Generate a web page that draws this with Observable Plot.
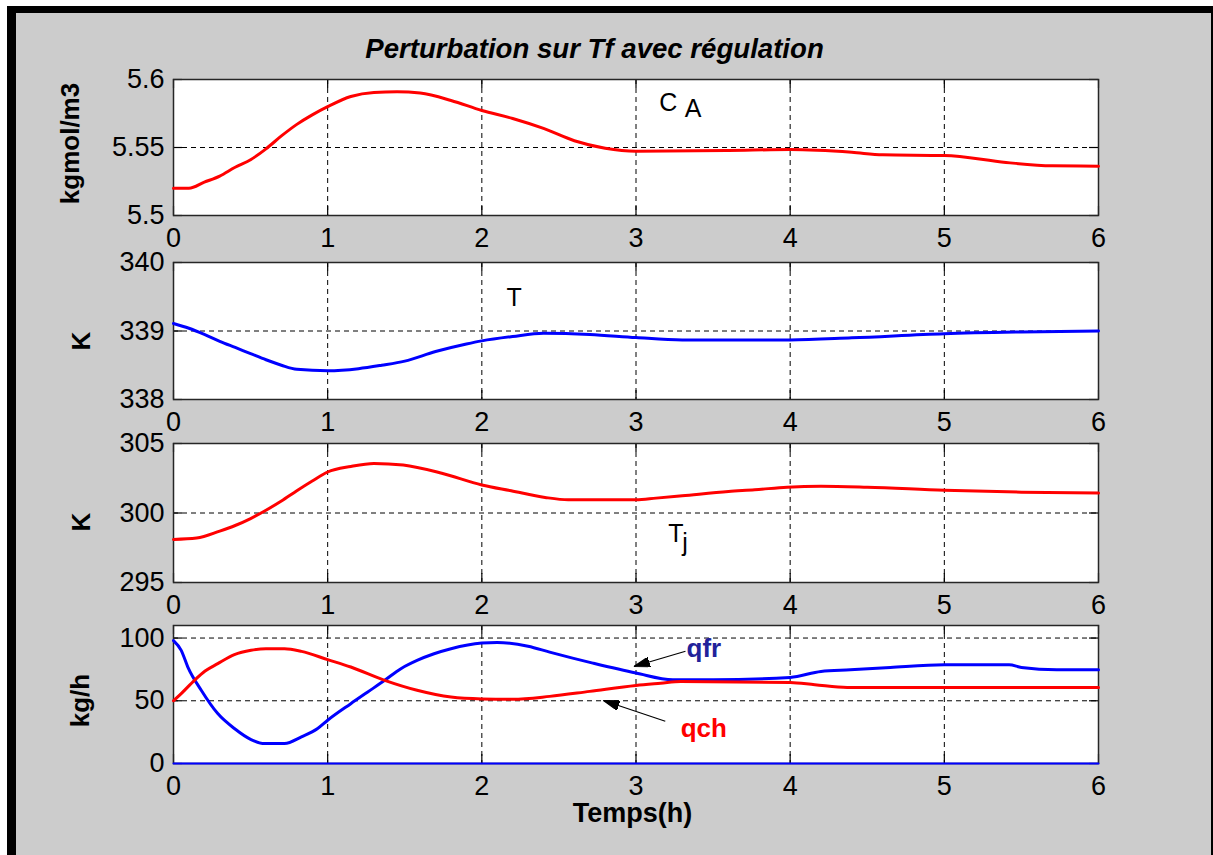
<!DOCTYPE html>
<html><head><meta charset="utf-8">
<script src="https://cdn.jsdelivr.net/npm/d3@7"></script>
<script src="https://cdn.jsdelivr.net/npm/@observablehq/plot@0.6"></script>
<style>
html,body{margin:0;padding:0;background:#fff;}
#page{position:relative;width:1213px;height:855px;overflow:hidden;background:#fff;}
#fig{position:absolute;left:7px;top:6px;width:1195px;height:849px;background:#cccccc;border-left:9px solid #000;border-top:7px solid #000;border-right:2px solid #000;}
</style></head><body><div id="page"><div id="fig"></div></div>
<script>
// ---- data ----
const xTicks = [0, 1, 2, 3, 4, 5, 6];
const titleText = "Perturbation sur Tf avec régulation";
const xLabelText = "Temps(h)";
const yLabels = ["kgmol/m3", "K", "K", "kg/h"];

const caTicks = [5.5, 5.55, 5.6];
const tTicks = [338, 339, 340];
const tjTicks = [295, 300, 305];
const qTicks = [0, 50, 100];

const caT = [0, 0.1, 0.2, 0.3, 0.4, 0.5, 0.6, 0.7, 0.8, 0.9, 1.0, 1.15, 1.3, 1.45, 1.6, 1.8, 2.0, 2.2, 2.4, 2.6, 2.8, 3.0, 3.6, 4.0, 4.4, 4.6, 5.0, 5.4, 5.7, 6.0];
const caV = [5.520, 5.520, 5.5245, 5.529, 5.5355, 5.541, 5.549, 5.5585, 5.567, 5.574, 5.580, 5.5875, 5.5905, 5.591, 5.590, 5.5846, 5.5772, 5.5713, 5.564, 5.555, 5.5495, 5.5473, 5.5478, 5.5485, 5.5465, 5.5446, 5.5441, 5.539, 5.5365, 5.5363];

const tT = [0, 0.1, 0.2, 0.3, 0.4, 0.5, 0.6, 0.7, 0.8, 1.0, 1.2, 1.35, 1.5, 1.7, 1.9, 2.0, 2.2, 2.4, 2.7, 3.0, 3.3, 4.0, 4.4, 5.0, 5.5, 6.0];
const tV = [339.11, 339.04, 338.95, 338.85, 338.76, 338.67, 338.58, 338.50, 338.44, 338.42, 338.45, 338.5, 338.56, 338.7, 338.81, 338.856, 338.92, 338.967, 338.95, 338.904, 338.87, 338.87, 338.9, 338.96, 338.985, 339.0];

const tjT = [0, 0.15, 0.3, 0.4, 0.5, 0.6, 0.7, 0.8, 0.9, 1.0, 1.15, 1.3, 1.49, 1.74, 2.0, 2.19, 2.41, 2.56, 3.0, 3.13, 3.3, 3.6, 3.77, 3.98, 4.2, 4.5, 5.0, 5.5, 6.0];
const tjV = [298.1, 298.2, 298.7, 299.1, 299.6, 300.2, 300.86, 301.6, 302.3, 302.95, 303.35, 303.57, 303.45, 302.86, 302.02, 301.6, 301.12, 300.95, 300.95, 301.07, 301.24, 301.55, 301.67, 301.86, 301.93, 301.86, 301.64, 301.5, 301.43];

const qchT = [0, 0.05, 0.136, 0.205, 0.287, 0.395, 0.503, 0.6, 0.72, 0.83, 1.0, 1.15, 1.37, 1.58, 1.8, 2.0, 2.2, 2.44, 2.7, 3.0, 3.16, 3.29, 4.0, 4.16, 4.37, 5.0, 6.0];
const qchV = [50, 55.7, 66.3, 73.7, 79.6, 86.7, 90.2, 91.5, 91.5, 89.4, 82.8, 76.9, 66.3, 58.4, 53, 51.5, 51.2, 53.5, 57.5, 62.2, 64, 65.4, 64.6, 62.8, 60.6, 60.6, 60.6];

const qfrT = [0, 0.05, 0.093, 0.18, 0.287, 0.395, 0.503, 0.59, 0.72, 0.83, 0.935, 1.0, 1.15, 1.26, 1.37, 1.475, 1.58, 1.69, 1.8, 2.0, 2.1, 2.3, 2.44, 2.72, 3.0, 3.24, 3.5, 4.0, 4.2, 4.39, 4.65, 5.0, 5.42, 5.5, 5.73, 6.0];
const qfrV = [98, 90.2, 76.9, 58.4, 39.8, 27.9, 19.1, 15.9, 15.9, 21.2, 27.9, 34.5, 47.7, 57, 66.3, 75.6, 82.2, 87.5, 91.5, 96, 96.5, 93.5, 88.8, 80, 72.1, 66.8, 66.8, 68.6, 73.4, 74.7, 76.6, 78.7, 78.7, 76.6, 74.7, 74.7];

const zeroT = [0, 6];
const zeroV = [0, 0];

// annotation anchors (data space)
const caLabel = [{t: 3.21, v: 5.5829, s: "C"}, {t: 3.37, v: 5.5782, s: "A"}];
const tLabel = [{t: 2.209, v: 339.48, s: "T"}];
const tjLabel = [{t: 3.259, v: 298.47, s: "T"}, {t: 3.318, v: 297.86, s: "j"}];
const qfrLabel = [{t: 3.328, v: 91.6, s: "qfr"}];
const qchLabel = [{t: 3.29, v: 27.9, s: "qch"}];
const arrows = [
  {t1: 3.321, v1: 89.5, t2: 2.986, v2: 77.3},
  {t1: 3.19, v1: 33.7, t2: 2.789, v2: 50.2}
];

// ---- drawing ----
const rows = (T, V) => T.map((t, i) => ({t, v: V[i]}));
const W = 1213, ML = 173, MR = 115, FW = W - ML - MR;
const FONT = "'Liberation Sans', Arial, Helvetica, sans-serif";
const grid = {stroke: "#000", strokeOpacity: 1, strokeWidth: 1, strokeDasharray: "5,4"};
const tk = {stroke: "#000", strokeWidth: 1.2};

function filledArrow(color) {
  return d3.create("svg:marker")
    .attr("viewBox", "0 -5 16 10").attr("refX", 16).attr("refY", 0)
    .attr("markerWidth", 16).attr("markerHeight", 10)
    .attr("markerUnits", "userSpaceOnUse").attr("orient", "auto")
    .call(m => m.append("path").attr("d", "M0,-5L16,0L0,5Z").attr("fill", color))
    .node();
}

function panel({top, h, dom, ticks, label, ldx, ldy, marks, mt = 20, mb = 45, extra = []}) {
  const chart = Plot.plot({
    width: W, height: mt + h + mb,
    marginLeft: ML, marginRight: MR, marginTop: mt, marginBottom: mb,
    x: {domain: [0, 6]}, y: {domain: dom},
    style: {background: "transparent", fontFamily: FONT, color: "#000", overflow: "visible"},
    marks: [
      Plot.frame({fill: "white"}),
      Plot.gridX(xTicks.slice(1, -1), grid),
      Plot.gridY(ticks.filter(d => d > dom[0] && d < dom[1]), grid),
      Plot.tickX(xTicks, {x: d => d, insetTop: h - 9, ...tk}),
      Plot.tickX(xTicks, {x: d => d, insetBottom: h - 9, ...tk}),
      Plot.tickY(ticks, {y: d => d, insetRight: FW - 9, ...tk}),
      Plot.tickY(ticks, {y: d => d, insetLeft: FW - 9, ...tk}),
      Plot.frame({stroke: "#262626", strokeWidth: 1.5}),
      ...marks,
      Plot.axisX(xTicks, {tickSize: 0, tickPadding: 12, fontSize: 27, label: null, tickFormat: d => String(d)}),
      Plot.axisY(ticks, {tickSize: 0, tickPadding: 9, fontSize: 27, label: null, tickFormat: d => String(d)}),
      Plot.text([label], {text: d => d, frameAnchor: "left", textAnchor: "middle", rotate: -90, dx: ldx, dy: ldy, fontSize: 26, fontWeight: "bold"}),
      ...extra
    ]
  });
  chart.style.position = "absolute";
  chart.style.left = "0px";
  chart.style.top = (top - mt) + "px";
  document.getElementById("page").appendChild(chart);
}

const lineOpts = (stroke) => ({x: "t", y: "v", stroke, strokeWidth: 3, curve: "monotone-x", strokeLinejoin: "round"});

panel({
  top: 79, h: 136, dom: [5.5, 5.6], ticks: caTicks, label: yLabels[0], ldx: -103, ldy: -4, mt: 75,
  marks: [
    Plot.line(rows(caT, caV), lineOpts("red")),
    Plot.text(caLabel, {x: "t", y: "v", text: "s", fontSize: 25})
  ],
  extra: [
    Plot.text([titleText], {text: d => d, frameAnchor: "top", textAnchor: "middle", dx: -41.5, dy: -41.6, fontSize: 27.6, fontWeight: "bold", fontStyle: "italic"})
  ]
});

panel({
  top: 262, h: 137, dom: [338, 340], ticks: tTicks, label: yLabels[1], ldx: -92, ldy: 10,
  marks: [
    Plot.line(rows(tT, tV), lineOpts("blue")),
    Plot.text(tLabel, {x: "t", y: "v", text: "s", fontSize: 25})
  ]
});

panel({
  top: 443, h: 139, dom: [295, 305], ticks: tjTicks, label: yLabels[2], ldx: -92, ldy: 9,
  marks: [
    Plot.line(rows(tjT, tjV), lineOpts("red")),
    Plot.text(tjLabel, {x: "t", y: "v", text: "s", fontSize: 25})
  ]
});

panel({
  top: 625, h: 138, dom: [0, 110], ticks: qTicks, label: yLabels[3], ldx: -93, ldy: 6, mb: 85,
  marks: [
    Plot.line(rows(zeroT, zeroV), {x: "t", y: "v", stroke: "blue", strokeWidth: 2}),
    Plot.line(rows(qfrT, qfrV), lineOpts("blue")),
    Plot.line(rows(qchT, qchV), lineOpts("red")),
    Plot.link(arrows, {x1: "t1", y1: "v1", x2: "t2", y2: "v2", stroke: "black", strokeWidth: 1.2, markerEnd: filledArrow}),
    Plot.text(qfrLabel, {x: "t", y: "v", text: "s", textAnchor: "start", fontSize: 26, fontWeight: "bold", fill: "#22229a"}),
    Plot.text(qchLabel, {x: "t", y: "v", text: "s", textAnchor: "start", fontSize: 26, fontWeight: "bold", fill: "red"})
  ],
  extra: [
    Plot.text([xLabelText], {text: d => d, frameAnchor: "bottom", textAnchor: "middle", dx: -3.5, dy: 58.4, fontSize: 27, fontWeight: "bold"})
  ]
});
</script>
</body></html>
